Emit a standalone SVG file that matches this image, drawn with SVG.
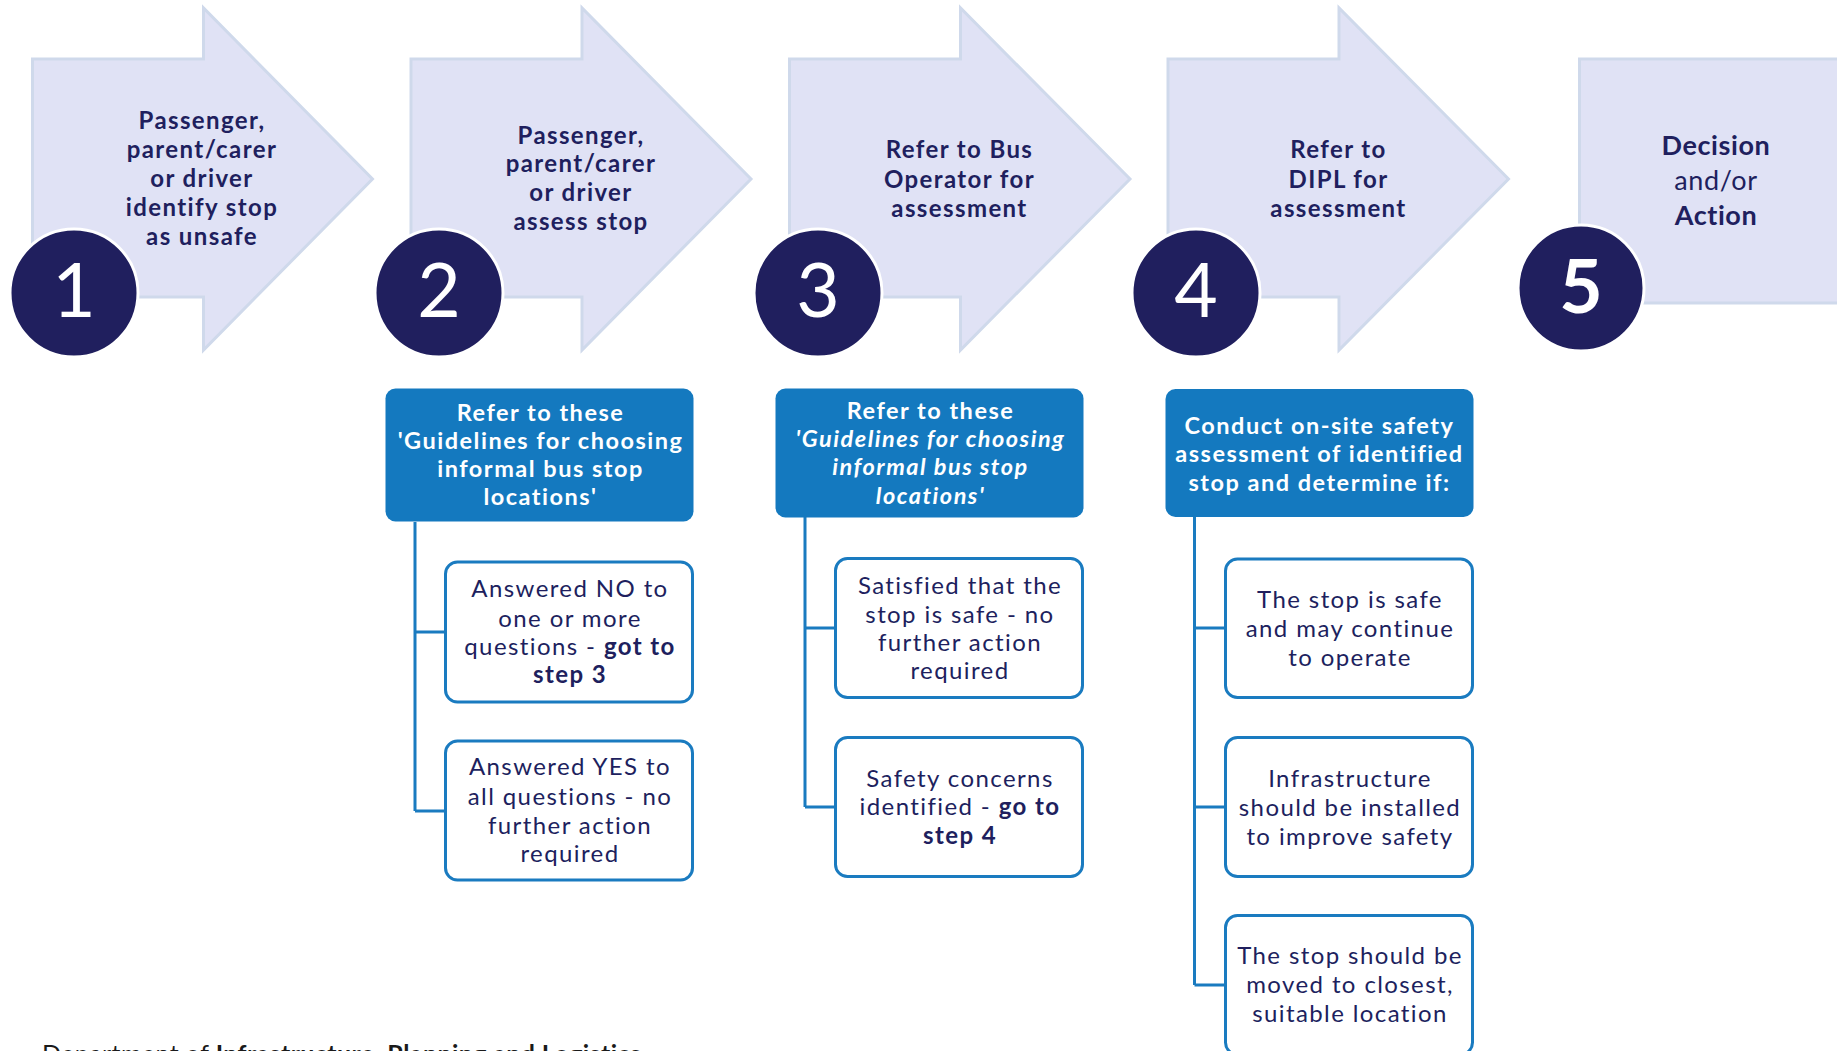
<svg xmlns="http://www.w3.org/2000/svg" width="1837" height="1051" viewBox="0 0 1837 1051">
<style>
.arrow{fill:#e0e2f5;stroke:#cfd9eb;stroke-width:3;stroke-linejoin:miter}
.num{fill:#201f5e;stroke:#ffffff;stroke-width:3}
.digit{font-family:Lato,"Noto Sans",sans-serif;font-size:75px;fill:#ffffff;text-anchor:middle}
.atext{font-family:Lato,"Noto Sans",sans-serif;font-size:24px;letter-spacing:1.4px;font-weight:bold;fill:#201f5e;text-anchor:middle}
.dtext{font-family:Lato,"Noto Sans",sans-serif;font-size:27px;letter-spacing:0.6px;fill:#201f5e;text-anchor:middle}
.head{fill:#1479bf}
.htext{font-family:Lato,"Noto Sans",sans-serif;font-size:23.5px;letter-spacing:1.5px;font-weight:bold;fill:#ffffff;text-anchor:middle}
.child{fill:#ffffff;stroke:#1a7bc0;stroke-width:3}
.ctext{font-family:Lato,"Noto Sans",sans-serif;font-size:24px;letter-spacing:1.4px;fill:#201f5e;text-anchor:middle}
.conn{fill:none;stroke:#1a7bc0;stroke-width:3}
.foot{font-family:Lato,"Noto Sans",sans-serif;font-size:25px;letter-spacing:0.4px;fill:#1a1a1a}
</style>

<g id="step1">
<polygon class="arrow" points="32.5,59 203.5,59 203.5,8 372.5,179 203.5,350 203.5,297 32.5,297"/>
<text class="atext"><tspan x="202" y="129">Passenger,</tspan><tspan x="202" y="158">parent/carer</tspan><tspan x="202" y="187">or driver</tspan><tspan x="202" y="216">identify stop</tspan><tspan x="202" y="245">as unsafe</tspan></text>
<circle class="num" cx="74" cy="293" r="64"/>
<text class="digit" x="74" y="317">1</text>
</g>

<g id="step2">
<polygon class="arrow" points="411,59 582,59 582,8 751,179 582,350 582,297 411,297"/>
<text class="atext"><tspan x="581" y="144">Passenger,</tspan><tspan x="581" y="172">parent/carer</tspan><tspan x="581" y="201">or driver</tspan><tspan x="581" y="230">assess stop</tspan></text>
<circle class="num" cx="439" cy="293" r="64"/>
<text class="digit" x="439" y="317">2</text>
</g>

<g id="step3">
<polygon class="arrow" points="789.5,59 960.5,59 960.5,8 1130,179 960.5,350 960.5,297 789.5,297"/>
<text class="atext"><tspan x="959.5" y="158">Refer to Bus</tspan><tspan x="959.5" y="188">Operator for</tspan><tspan x="959.5" y="217">assessment</tspan></text>
<circle class="num" cx="818" cy="293" r="64"/>
<text class="digit" x="818" y="317">3</text>
</g>

<g id="step4">
<polygon class="arrow" points="1168,59 1339,59 1339,8 1508.5,179 1339,350 1339,297 1168,297"/>
<text class="atext"><tspan x="1338.5" y="158">Refer to</tspan><tspan x="1338.5" y="188">DIPL for</tspan><tspan x="1338.5" y="217">assessment</tspan></text>
<circle class="num" cx="1196" cy="293" r="64"/>
<text class="digit" x="1196" y="317">4</text>
</g>

<g id="step5">
<rect class="arrow" x="1579.5" y="59" width="270" height="244"/>
<text class="dtext"><tspan x="1716" y="155" font-weight="bold">Decision</tspan><tspan x="1716" y="189.5">and/or</tspan><tspan x="1716" y="225" font-weight="bold">Action</tspan></text>
<circle class="num" cx="1581" cy="288" r="63"/>
<text class="digit" x="1581" y="313" font-weight="bold">5</text>
</g>

<g id="connectors">
<path class="conn" d="M415,522 V811 M415,632 H445 M415,811 H445"/>
<path class="conn" d="M805,517 V807 M805,628 H835 M805,807 H835"/>
<path class="conn" d="M1194.5,517 V985 M1194.5,628 H1225 M1194.5,807 H1225 M1194.5,985 H1225"/>
</g>

<g id="guide2">
<rect class="head" x="385.5" y="388.5" width="308" height="133" rx="10"/>
<text class="htext"><tspan x="540.5" y="420.5">Refer to these</tspan><tspan x="540.5" y="449">'Guidelines for choosing</tspan><tspan x="540.5" y="477">informal bus stop</tspan><tspan x="540.5" y="505">locations'</tspan></text>
</g>
<g id="no2">
<rect class="child" x="445.5" y="562" width="247" height="140" rx="12"/>
<text class="ctext"><tspan x="570" y="597">Answered NO to</tspan><tspan x="570" y="626.5">one or more</tspan><tspan x="570" y="655">questions - <tspan font-weight="bold">got to</tspan></tspan><tspan x="570" y="683" font-weight="bold">step 3</tspan></text>
</g>
<g id="yes2">
<rect class="child" x="445.5" y="741" width="247" height="139" rx="12"/>
<text class="ctext"><tspan x="570" y="775">Answered YES to</tspan><tspan x="570" y="805">all questions - no</tspan><tspan x="570" y="833.5">further action</tspan><tspan x="570" y="862">required</tspan></text>
</g>

<g id="guide3">
<rect class="head" x="775.5" y="388.5" width="308" height="129" rx="10"/>
<text class="htext"><tspan x="930.5" y="418.5">Refer to these</tspan><tspan x="930.5" y="447" font-style="italic">'Guidelines for choosing</tspan><tspan x="930.5" y="475" font-style="italic">informal bus stop</tspan><tspan x="930.5" y="503.5" font-style="italic">locations'</tspan></text>
</g>
<g id="safe3">
<rect class="child" x="835.5" y="558.5" width="247" height="139" rx="12"/>
<text class="ctext"><tspan x="960" y="593.5">Satisfied that the</tspan><tspan x="960" y="622.5">stop is safe - no</tspan><tspan x="960" y="651">further action</tspan><tspan x="960" y="679">required</tspan></text>
</g>
<g id="concern3">
<rect class="child" x="835.5" y="737.5" width="247" height="139" rx="12"/>
<text class="ctext"><tspan x="960" y="787">Safety concerns</tspan><tspan x="960" y="815">identified - <tspan font-weight="bold">go to</tspan></tspan><tspan x="960" y="843.5" font-weight="bold">step 4</tspan></text>
</g>

<g id="assess4">
<rect class="head" x="1165.5" y="389" width="308" height="128" rx="10"/>
<text class="htext"><tspan x="1319.5" y="433.5">Conduct on-site safety</tspan><tspan x="1319.5" y="461.5">assessment of identified</tspan><tspan x="1319.5" y="490.5">stop and determine if:</tspan></text>
</g>
<g id="ok4">
<rect class="child" x="1225.5" y="559" width="247" height="138.5" rx="12"/>
<text class="ctext"><tspan x="1350" y="607.5">The stop is safe</tspan><tspan x="1350" y="636.5">and may continue</tspan><tspan x="1350" y="665.5">to operate</tspan></text>
</g>
<g id="infra4">
<rect class="child" x="1225.5" y="737.5" width="247" height="139" rx="12"/>
<text class="ctext"><tspan x="1350" y="786.5">Infrastructure</tspan><tspan x="1350" y="815.5">should be installed</tspan><tspan x="1350" y="844.5">to improve safety</tspan></text>
</g>
<g id="move4">
<rect class="child" x="1225.5" y="915.5" width="247" height="139" rx="12"/>
<text class="ctext"><tspan x="1350" y="964">The stop should be</tspan><tspan x="1350" y="993">moved to closest,</tspan><tspan x="1350" y="1022">suitable location</tspan></text>
</g>

<text class="foot" x="42" y="1063">Department of <tspan font-weight="bold">Infrastructure, Planning and Logistics</tspan></text>
</svg>
